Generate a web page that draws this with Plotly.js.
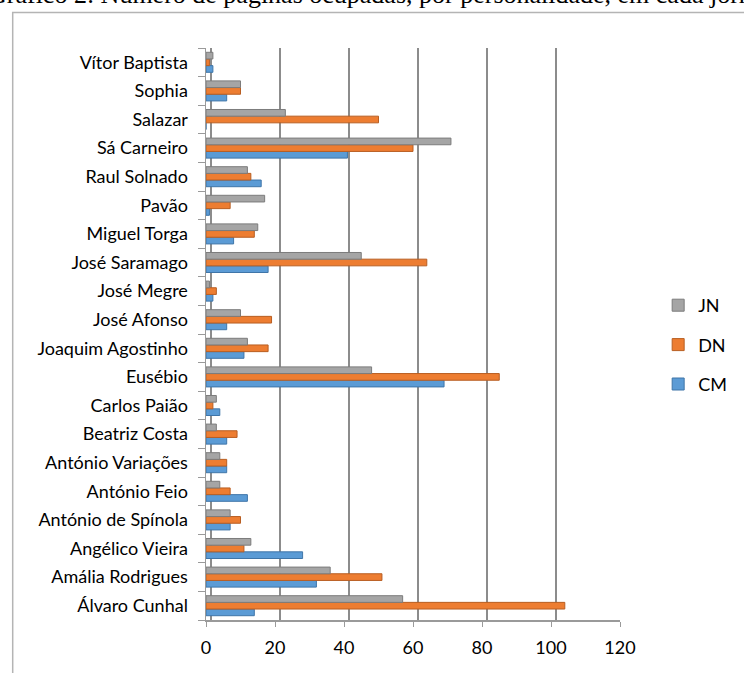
<!DOCTYPE html>
<html>
<head>
<meta charset="utf-8">
<script src="https://cdn.plot.ly/plotly-3.0.1.min.js"></script>
<style>
  html, body { margin: 0; padding: 0; background: #fff; }
  #chart { width: 744px; height: 673px; }
</style>
</head>
<body>
<div id="chart"></div>
<script>
// Personalities, listed bottom to top as they sit on the axis
const personalidades = [
  "Álvaro Cunhal", "Amália Rodrigues", "Angélico Vieira", "António de Spínola",
  "António Feio", "António Variações", "Beatriz Costa", "Carlos Paião",
  "Eusébio", "Joaquim Agostinho", "José Afonso", "José Megre",
  "José Saramago", "Miguel Torga", "Pavão", "Raul Solnado",
  "Sá Carneiro", "Salazar", "Sophia", "Vítor Baptista"
];

// Pages per newspaper, same order as personalidades
const paginasJN = [57, 36, 13, 7, 4, 4, 3, 3, 48, 12, 10, 1, 45, 15, 17, 12, 71, 23, 10, 2];
const paginasDN = [104, 51, 11, 10, 7, 6, 9, 2, 85, 18, 19, 3, 64, 14, 7, 13, 60, 50, 10, 1];
const paginasCM = [14, 32, 28, 7, 12, 6, 6, 4, 69, 11, 6, 2, 18, 8, 1, 16, 41, 0, 6, 2];

const xTicks = [0, 20, 40, 60, 80, 100, 120];

const W = 744, H = 673;
const M = { l: 206, r: 115, t: 48, b: 53 };
const plotW = W - M.l - M.r, plotH = H - M.t - M.b;
// pixel -> paper helpers for decorations
const px = x => (x - M.l) / plotW;
const py = y => (H - M.b - y) / plotH;

const font = "Lato, 'Noto Sans', sans-serif";

function serie(nome, valores, cor, borda, rank) {
  return {
    type: "bar",
    orientation: "h",
    name: nome,
    legendgroup: nome,
    legendrank: rank,
    y: personalidades,
    x: valores,
    marker: { color: cor, line: { color: borda, width: 1 } },
    hoverinfo: "x+name"
  };
}

const data = [
  serie("CM", paginasCM, "#5B9BD5", "#3F75A8", 3),
  serie("DN", paginasDN, "#ED7D31", "#B85E22", 2),
  serie("JN", paginasJN, "#A5A5A5", "#7C7C7C", 1),
  // invisible carrier for the receding back-wall grid
  { type: "scatter", x: [0], y: [personalidades[0]], xaxis: "x2", mode: "markers",
    marker: { opacity: 0 }, showlegend: false, hoverinfo: "skip" }
];

const layout = {
  width: W, height: H,
  margin: M,
  paper_bgcolor: "#ffffff",
  plot_bgcolor: "rgba(0,0,0,0)",
  barmode: "group",
  bargap: 0.3,
  bargroupgap: 0,
  font: { family: font, size: 16, color: "#000000" },
  showlegend: true,
  legend: {
    x: px(668), xanchor: "left",
    y: py(345), yanchor: "middle",
    traceorder: "grouped",
    tracegroupgap: 13,
    font: { family: font, size: 18, color: "#000000" },
    bgcolor: "rgba(0,0,0,0)"
  },
  xaxis: {
    range: [0, 120],
    tickvals: xTicks,
    ticktext: xTicks.map(String),
    showgrid: false,
    zeroline: false,
    showline: true,
    linecolor: "#9a9a9a",
    linewidth: 1.5,
    ticks: "outside",
    ticklen: 5,
    tickcolor: "#9a9a9a",
    ticklabelstandoff: 6,
    tickfont: { family: font, size: 18, color: "#000000" },
    fixedrange: true
  },
  // back wall grid, shifted slightly right to give depth
  xaxis2: {
    overlaying: "x",
    range: [-1.4, 118.6],
    tickvals: xTicks,
    showticklabels: false,
    showgrid: true,
    gridcolor: "#8c8c8c",
    gridwidth: 2,
    zeroline: false,
    showline: false,
    ticks: "",
    fixedrange: true
  },
  yaxis: {
    type: "category",
    categoryorder: "array",
    categoryarray: personalidades,
    range: [-0.5, personalidades.length - 0.5],
    showgrid: false,
    showline: true,
    linecolor: "#9a9a9a",
    linewidth: 1.5,
    ticks: "outside",
    tickson: "boundaries",
    ticklen: 7,
    tickcolor: "#9a9a9a",
    ticklabelstandoff: 13,
    tickfont: { family: font, size: 18, color: "#000000" },
    fixedrange: true
  },
  shapes: [
    // frame around the chart
    { type: "rect", xref: "paper", yref: "paper",
      x0: px(8.5), x1: px(760), y0: py(12.5), y1: py(690),
      line: { color: "#b4b4b4", width: 1.5 }, fillcolor: "rgba(0,0,0,0)", layer: "below" }
  ],
  annotations: [
    { xref: "paper", yref: "paper",
      x: px(-19), xanchor: "left",
      y: py(-5), yanchor: "middle",
      text: "Gráfico 2: Número de páginas ocupadas, por personalidade, em cada jornal",
      showarrow: false,
      font: { family: "'Liberation Serif', 'DejaVu Serif', serif", size: 26, color: "#000000" } }
  ]
};

Plotly.newPlot("chart", data, layout, { displayModeBar: false, staticPlot: true });
</script>
</body>
</html>
